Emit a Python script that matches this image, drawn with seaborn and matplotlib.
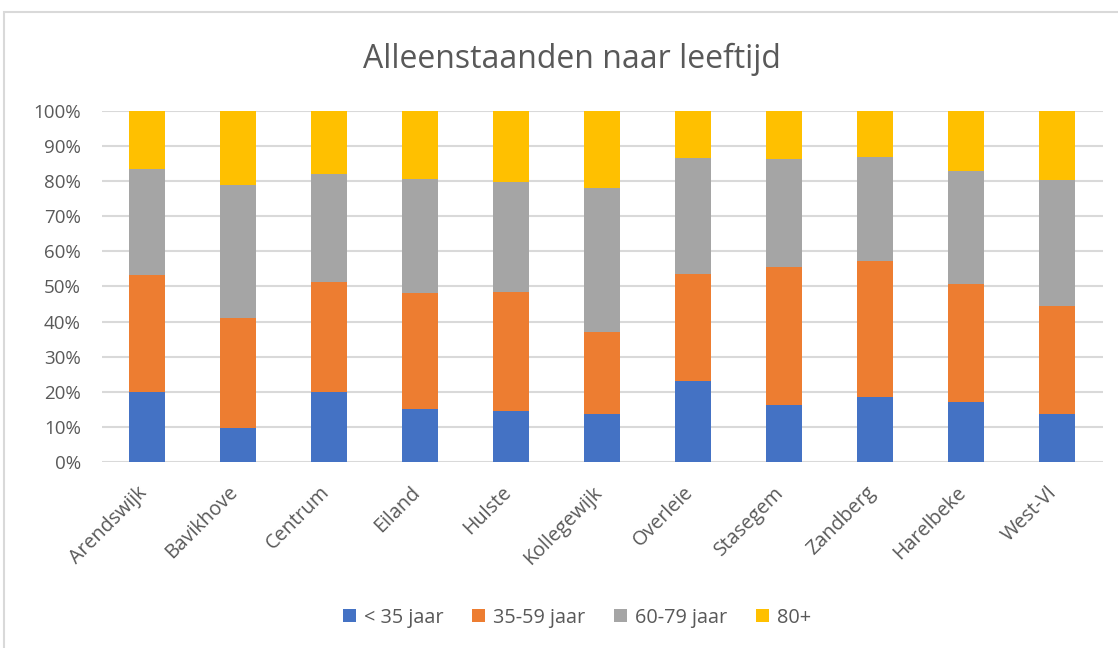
import numpy as np
import pandas as pd
import matplotlib
matplotlib.use("Agg")
import matplotlib.pyplot as plt
import matplotlib.transforms as mtrans
import seaborn as sns
from matplotlib.patches import Patch, Rectangle

sns.set_style("white")
plt.rcParams['font.family'] = ['Open Sans', 'DejaVu Sans']

# share of singles per age group (%)
wijken = ['Arendswijk', 'Bavikhove', 'Centrum', 'Eiland', 'Hulste', 'Kollegewijk',
          'Overleie', 'Stasegem', 'Zandberg', 'Harelbeke', 'West-Vl']
onder_35 = [19.9, 9.6, 19.9, 15.0, 14.4, 13.7, 23.1, 16.3, 18.4, 17.0, 13.7]
jaar_35_59 = [33.3, 31.5, 31.4, 33.0, 34.1, 23.4, 30.5, 39.1, 38.8, 33.6, 30.7]
jaar_60_79 = [30.3, 37.7, 30.8, 32.6, 31.1, 40.9, 32.9, 30.8, 29.7, 32.3, 36.0]
plus_80 = [16.5, 21.2, 17.9, 19.4, 20.4, 22.0, 13.5, 13.8, 13.1, 17.1, 19.6]

groepen = ['< 35 jaar', '35-59 jaar', '60-79 jaar', '80+']
kleuren = ['#4472C4', '#ED7D31', '#A5A5A5', '#FFC000']

df = pd.DataFrame({'wijk': wijken, '< 35 jaar': onder_35, '35-59 jaar': jaar_35_59,
                   '60-79 jaar': jaar_60_79, '80+': plus_80})
cum = df[groepen].cumsum(axis=1)

fig = plt.figure(figsize=(11.18, 6.48), dpi=100)
ax = fig.add_axes([0.0908, 0.287, 0.8955, 0.542])

# draw tallest cumulative first so smaller ones sit on top
for groep, kleur in reversed(list(zip(groepen, kleuren))):
    sns.barplot(x=df['wijk'], y=cum[groep], color=kleur, width=0.4,
                saturation=1, linewidth=0, ax=ax, zorder=3)

ax.set_ylim(0, 100)
ax.set_xlim(-0.5, len(wijken) - 0.5)
ax.set_yticks(np.arange(0, 101, 10))
ax.set_yticklabels([f"{v}%" for v in range(0, 101, 10)])
ax.yaxis.grid(True, color='#d9d9d9', linewidth=1.5, zorder=0)
ax.set_axisbelow(True)
ax.set_xlabel('')
ax.set_ylabel('')
for s in ax.spines.values():
    s.set_visible(False)
ax.tick_params(axis='y', length=0, labelsize=13.5, labelcolor='#595959', pad=15)
ax.tick_params(axis='x', length=0, labelsize=14.2, labelcolor='#595959', pad=6)
shift = mtrans.ScaledTranslation(-0.10, -0.12, fig.dpi_scale_trans)
for lab in ax.get_xticklabels():
    lab.set_rotation(45)
    lab.set_ha('right')
    lab.set_rotation_mode('anchor')
    lab.set_transform(lab.get_transform() + shift)

fig.text(0.512, 0.908, 'Alleenstaanden naar leeftijd', ha='center', va='center',
         fontsize=23, color='#595959')

handles = [Patch(facecolor=k, edgecolor='none', label=g) for g, k in zip(groepen, kleuren)]
fig.legend(handles=handles, loc='center', bbox_to_anchor=(0.516, 0.047), ncol=4,
           frameon=False, fontsize=14.3, labelcolor='#595959', handlelength=0.65,
           handleheight=0.65, handletextpad=0.4, columnspacing=1.45)

fig.patches.append(Rectangle((4 / 1118, -0.1), 1.2, 0.1 + (648 - 12) / 648,
                             transform=fig.transFigure, fill=False,
                             edgecolor='#d9d9d9', linewidth=1.5))

fig.savefig('out.png', dpi=100)
